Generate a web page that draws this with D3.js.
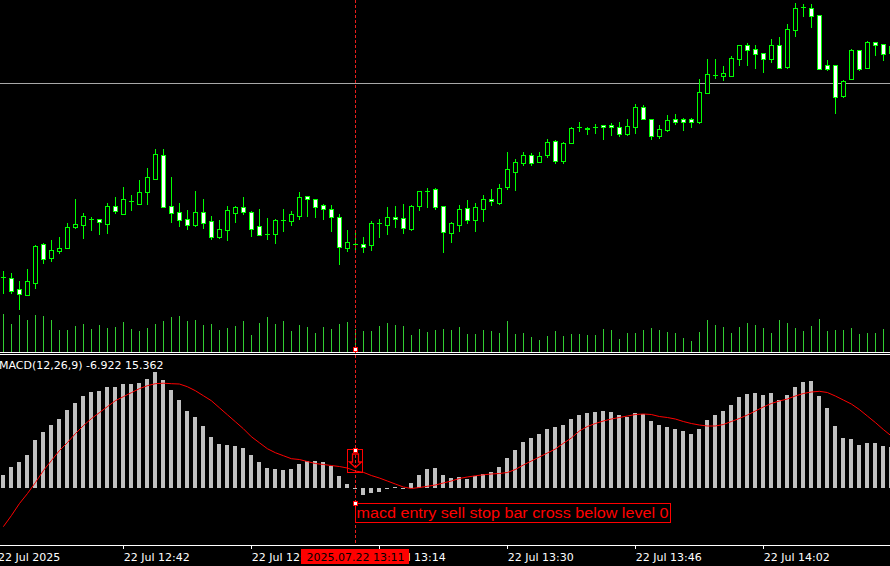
<!DOCTYPE html>
<html><head><meta charset="utf-8">
<script src="https://cdn.jsdelivr.net/npm/d3@7"></script>
<style>html,body{margin:0;padding:0;background:#000;overflow:hidden}</style>
</head><body>
<svg id="c" width="890" height="566" xmlns="http://www.w3.org/2000/svg"></svg>
<script>
// ---- DATA ----
// candles: [open, high, low, close]
const ohlc = [
[23522.7,23529,23507.3,23522.7],[23522,23527,23507.3,23509.3],[23510.7,23519,23491,23506.3],[23505.3,23531,23505.3,23518.7],[23517.3,23554.7,23512.3,23554],
[23555.7,23557,23537.3,23541.3],[23542.3,23560,23539,23549.7],[23549.3,23563,23547,23552],[23552.3,23577,23552.3,23572.7],[23573.3,23601,23572,23576],
[23575.3,23587,23562.3,23583.7],[23581.3,23582.7,23570.3,23581.3],[23580.7,23580.7,23566.3,23577.7],[23576.3,23597,23567.3,23593.7],[23594,23603,23586.7,23588.7],
[23586.3,23613,23586.3,23600.7],[23599.3,23605,23590,23599.3],[23596.3,23620,23596.3,23608],[23608.3,23632,23596,23623],[23621.3,23651,23621.3,23646],
[23645,23651,23593.3,23593.3],[23594,23623,23578.3,23587.3],[23588,23597,23574,23580],[23581,23590,23571.3,23575.3],[23575,23609,23574,23588],
[23588,23601,23572,23577.3],[23579,23584,23561,23563.3],[23563,23580,23562,23571],[23570.3,23594,23560,23589.7],[23587.3,23594,23578.3,23592.7],
[23592.7,23603,23586.3,23587.7],[23587.7,23589,23564.3,23571.3],[23573.7,23591,23564.7,23564.7],[23565.7,23582,23561.3,23565.7],[23565.7,23580.7,23557.3,23580],
[23579.7,23591,23569.3,23579.7],[23579.3,23589,23575.3,23585.7],[23584.3,23608,23581.3,23603],[23603.7,23603.7,23584.3,23600.7],[23600.7,23600.7,23583.3,23593.3],
[23594.7,23596,23581.3,23591.3],[23590.7,23595,23569.3,23582.7],[23582.7,23586,23536.3,23552.7],[23552.3,23570,23549.3,23557.7],[23555.7,23566.7,23549.3,23555.7],
[23555.7,23562.7,23548.3,23553.3],[23555.3,23579,23550.3,23576.7],[23577,23581,23562.7,23577],[23574.7,23593,23566.3,23582.7],[23582.7,23594,23572.7,23580.7],
[23581.7,23596,23566.7,23571.7],[23571,23595,23570,23593.7],[23593.7,23608.7,23590,23608.7],[23608.7,23612,23593.3,23609.3],[23610.7,23612,23591.3,23593.3],
[23593.7,23593.7,23548.3,23568.3],[23567.3,23578,23558.3,23576.7],[23575.3,23594.7,23569.3,23591],[23591.7,23600,23577,23580.3],[23580.3,23597,23569.3,23593],
[23591.3,23604.7,23579.3,23600.7],[23600.7,23611,23595.3,23598.7],[23597.3,23616,23596,23611.7],[23613.3,23648,23611,23630.7],[23628.3,23640.7,23610,23637.7],
[23637,23648,23635,23644.7],[23644.7,23646.7,23635,23637.3],[23638.3,23648,23638.3,23643.7],[23645.3,23661,23643.3,23657.7],[23658.7,23659.7,23637.3,23639.3],
[23639.3,23657.7,23637.3,23656.7],[23656.7,23673.3,23656.7,23671.7],[23672.7,23678,23669.3,23672.7],[23671,23672.7,23666.3,23672],[23672.7,23676,23667.3,23672.7],
[23675,23675,23661.3,23672.7],[23675,23677,23665.3,23672.7],[23672.7,23678,23664.3,23666.3],[23666.3,23681,23665.3,23674],[23673.3,23696,23667.3,23693],
[23693,23694.7,23681.3,23681.3],[23681,23681,23661,23664.3],[23664.3,23675,23662,23671],[23670,23685,23669,23680],[23681,23686,23676,23678.3],
[23681,23682,23670,23678.3],[23681,23682,23673.3,23678.3],[23678.3,23721,23677.3,23707.7],[23707.3,23741,23707.3,23725.7],[23725.3,23741,23722,23725.3],
[23724.3,23734,23720,23726.7],[23724.3,23744,23724.3,23741.7],[23741.3,23754.7,23735,23754.7],[23754.7,23756.7,23735,23750.3],[23750.7,23754.7,23732,23746.3],
[23746.7,23746.7,23728,23741.3],[23741.3,23761,23738,23754.7],[23754.7,23762.7,23732.3,23732.3],[23733,23776,23732,23770.7],[23770.3,23797,23764,23792],
[23792.7,23796,23784,23792.7],[23792,23796,23773.3,23784.3],[23784.7,23784.7,23731.3,23731.3],[23735,23740,23730,23731.3],[23734.7,23734.7,23687.3,23703.3],
[23704,23720,23703,23719],[23721.3,23750.7,23721.3,23750],[23750,23750,23730,23730.7],[23732.3,23758.7,23732.3,23758],[23758,23758,23745,23755.3],
[23755.7,23755.7,23740,23746.3],[23746.7,23755,23745,23754]
];
const volumes = [
383,283,373,323,373,363,323,223,223,263,
283,233,273,243,253,303,233,213,243,283,
313,353,363,313,323,273,283,223,243,263,
313,173,293,353,283,313,213,273,253,193,
253,233,283,303,230,213,213,263,293,273,
263,173,233,203,223,233,223,253,183,183,
223,213,193,313,183,193,153,123,163,213,
163,183,183,173,173,233,223,133,193,193,
223,243,223,203,193,143,113,203,323,273,
253,193,253,293,273,243,193,323,293,243,
213,263,333,213,223,223,243,183,193,193,
233
];
const macdMain = [
12.7,20.7,25.7,32.7,47.7,55.7,62.7,68.7,77.7,84.7,
91.7,95.7,96.7,100.7,100.7,103.7,103.7,104.7,108.7,115.7,
107.7,97.7,87.7,76.7,70.7,61.7,50.7,43.7,42.7,41.7,
39.7,32.7,25.7,19.7,18.7,17.7,18.7,23.7,26.7,26.7,
25.7,21.7,11.7,3.7,-1.5,-6.922,-5,-4,-1,0.6,
-0.6,5,12.7,18.7,19.7,12.7,9.7,10.7,8.7,11.7,
13.7,15.7,20.7,29.7,37.7,45.7,49.7,53.7,58.5,61,
63,68.7,72.7,74.7,75.7,76.7,75.7,72.7,70.7,74.7,
73.7,66.7,62.7,60.7,58.7,56.7,53.7,58.7,67.7,72.7,
76.7,82.7,90.7,93.7,94.7,92.7,94.7,87.7,92.7,100.7,
105.7,106.7,91.7,79.7,61.7,49.7,48.7,42.7,44.7,44.7,
41.7,40.7
];
const macdSignal = [
-39,-28,-16,-6,5,17,27,37,45,54,
62,69,75,81,87,91,95,99,102,104,
104.5,104,103.7,101,97,92,87,80,73,66,
59,51,45,39,35,32,29,28.2,26.2,24.2,
23.2,22.2,21.2,19.7,16.7,15.362,12.2,9.7,6.7,3.7,
0.7,-0.8,0.2,1.4,2.7,4.7,6.7,9.2,10.7,11.9,
12.9,13.7,14.2,15.2,18.2,22.7,26.7,30.7,34.7,38.7,
44.4,49.7,56.7,61.2,64.2,66.7,68.7,70.2,71.7,73.2,
73.7,73.2,71.2,70.2,68.7,66.2,64.2,62.7,61.7,61.7,
63.2,66.2,69.2,72.7,76.7,80.7,84.2,86.7,88.7,91.7,
94.2,95.7,96.4,95.2,91.7,87.7,83.7,78.2,71.7,65.2,
58.2,51.7
];
const tickBars = [15,31,47,63,79,95];
const tickLabels = ["22 Jul 12:42","22 Jul 12:58","22 Jul 13:14","22 Jul 13:30","22 Jul 13:46","22 Jul 14:02"];
const firstLabel = "22 Jul 2025";
const levelPrice = 23717;
const cursorBar = 44;
const cursorLabel = "2025.07.22 13:11";
const macdTitle = "MACD(12,26,9) -6.922 15.362";
const signalText = "macd entry sell stop bar cross below level 0";

// ---- DRAW ----
const W = 890, H = 566;
const svg = d3.select("#c");
svg.append("rect").attr("width", W).attr("height", H).attr("fill", "#000");

const x = d3.scaleLinear().domain([0, 111]).range([3.33, 891.33]);
const yP = d3.scaleLinear().domain([23800, 23448]).range([0, 352]);
const yV = d3.scaleLinear().domain([0, 3520]).range([352, 0]);
const yM = d3.scaleLinear().domain([-57.3, 132.7]).range([545, 355]);
const px = i => Math.floor(x(i));

svg.append("defs").append("clipPath").attr("id", "mainClip")
  .append("rect").attr("x", 0).attr("y", 0).attr("width", W).attr("height", 352);
svg.append("defs").append("clipPath").attr("id", "macdClip")
  .append("rect").attr("x", 0).attr("y", 355).attr("width", W).attr("height", 190);

const main = svg.append("g").attr("clip-path", "url(#mainClip)").attr("shape-rendering", "crispEdges");

// level line
main.append("line").attr("x1", 0).attr("x2", W)
  .attr("y1", Math.round(yP(levelPrice)) + 0.5).attr("y2", Math.round(yP(levelPrice)) + 0.5)
  .attr("stroke", "#a8a8a8").attr("stroke-width", 1);

// volumes
main.append("g").selectAll("line").data(volumes).join("line")
  .attr("x1", (d, i) => px(i) + 0.5).attr("x2", (d, i) => px(i) + 0.5)
  .attr("y1", d => Math.round(yV(d))).attr("y2", yV(0))
  .attr("stroke", "#32cd32").attr("stroke-width", 1);

// candles
const cg = main.append("g");
ohlc.forEach((d, i) => {
  const [o, h, l, c] = d;
  const cx = px(i) + 0.5;
  const g = cg.append("g");
  g.append("line").attr("x1", cx).attr("x2", cx)
    .attr("y1", Math.round(yP(h))).attr("y2", Math.round(yP(l)) + 1)
    .attr("stroke", "#00ff00").attr("stroke-width", 1);
  const top = Math.round(yP(Math.max(o, c))) + 0.5;
  const bot = Math.round(yP(Math.min(o, c))) + 0.5;
  if (bot - top < 1) {
    g.append("line").attr("x1", cx - 2.5).attr("x2", cx + 2.5)
      .attr("y1", top).attr("y2", top).attr("stroke", "#00ff00").attr("stroke-width", 1);
  } else {
    g.append("rect").attr("x", cx - 2).attr("y", top).attr("width", 4).attr("height", bot - top)
      .attr("fill", c >= o ? "#000" : "#fff").attr("stroke", "#00ff00").attr("stroke-width", 1);
  }
});

// separators
[352.5, 354.5].forEach(yy => svg.append("line").attr("x1", 0).attr("x2", W)
  .attr("y1", yy).attr("y2", yy).attr("stroke", "#fff").attr("stroke-width", 1)
  .attr("shape-rendering", "crispEdges"));

// MACD
const mg = svg.append("g").attr("clip-path", "url(#macdClip)");
const zeroY = Math.round(yM(0));
mg.append("g").attr("shape-rendering", "crispEdges").selectAll("rect").data(macdMain).join("rect")
  .attr("x", (d, i) => px(i) - 2).attr("width", 4)
  .attr("y", d => d >= 0 ? Math.round(yM(d)) : zeroY)
  .attr("height", d => Math.max(1, Math.abs(Math.round(yM(d)) - zeroY)))
  .attr("fill", "#c0c0c0");
mg.append("path").datum(macdSignal)
  .attr("d", d3.line().x((d, i) => x(i)).y(d => yM(d)))
  .attr("fill", "none").attr("stroke", "#ff0000").attr("stroke-width", 1);

svg.append("text").attr("x", -1).attr("y", 369).text(macdTitle)
  .attr("fill", "#fff").attr("font-family", "DejaVu Sans").attr("font-size", 11);

// time axis
svg.append("line").attr("x1", 0).attr("x2", W).attr("y1", 545.5).attr("y2", 545.5)
  .attr("stroke", "#fff").attr("shape-rendering", "crispEdges");
const axis = d3.axisBottom(x).tickValues(tickBars).tickFormat((d, i) => tickLabels[i]).tickSize(4).tickSizeOuter(0);
const ag = svg.append("g").attr("transform", "translate(0,545)").call(axis);
ag.select(".domain").remove();
ag.selectAll(".tick line").attr("stroke", "#fff").attr("shape-rendering", "crispEdges");
ag.selectAll(".tick text").attr("fill", "#fff").attr("text-anchor", "start")
  .attr("x", 0).attr("y", 16).attr("dy", null)
  .attr("font-family", "DejaVu Sans").attr("font-size", 11);
svg.append("text").attr("x", -2).attr("y", 561).text(firstLabel)
  .attr("fill", "#fff").attr("font-family", "DejaVu Sans").attr("font-size", 11);

// cursor
const cX = px(cursorBar) + 0.5;
svg.append("line").attr("x1", cX).attr("x2", cX).attr("y1", 0).attr("y2", 545)
  .attr("stroke", "#e8201c").attr("stroke-width", 1).attr("stroke-dasharray", "3,2")
  .attr("shape-rendering", "crispEdges");

// arrow signal box
const ab = svg.append("g");
ab.append("rect").attr("x", cX - 8).attr("y", 449.5).attr("width", 15).attr("height", 23)
  .attr("fill", "none").attr("stroke", "#ff0000").attr("shape-rendering", "crispEdges");
ab.append("path")
  .attr("d", `M${cX-3},454 L${cX+3},454 L${cX+3},462 L${cX+6},462 L${cX},467.5 L${cX-6},462 L${cX-3},462 Z`)
  .attr("fill", "none").attr("stroke", "#ff0000").attr("stroke-width", 1.3);

// label box
svg.append("rect").attr("x", cX).attr("y", 503.5).attr("width", 315).attr("height", 19)
  .attr("fill", "none").attr("stroke", "#ff0000").attr("shape-rendering", "crispEdges");
svg.append("text").attr("x", cX + 1).attr("y", 518).text(signalText)
  .attr("fill", "#ff0000").attr("font-family", "Liberation Sans, Arial").attr("font-size", 14)
  .attr("textLength", 312).attr("lengthAdjust", "spacingAndGlyphs");

// anchors
[349.5, 450.5, 503.5].forEach(yy => svg.append("rect")
  .attr("x", cX - 2).attr("y", yy - 2).attr("width", 4).attr("height", 4)
  .attr("fill", "#fff").attr("stroke", "#ff0000").attr("shape-rendering", "crispEdges"));

// cursor time label
const tg = svg.append("g");
tg.append("rect").attr("x", 301).attr("y", 549).attr("width", 108).attr("height", 15).attr("fill", "#ff0000");
tg.append("text").attr("x", cX).attr("y", 561).attr("text-anchor", "middle").text(cursorLabel)
  .attr("fill", "#000").attr("font-family", "DejaVu Sans").attr("font-size", 11);
</script>
</body></html>
